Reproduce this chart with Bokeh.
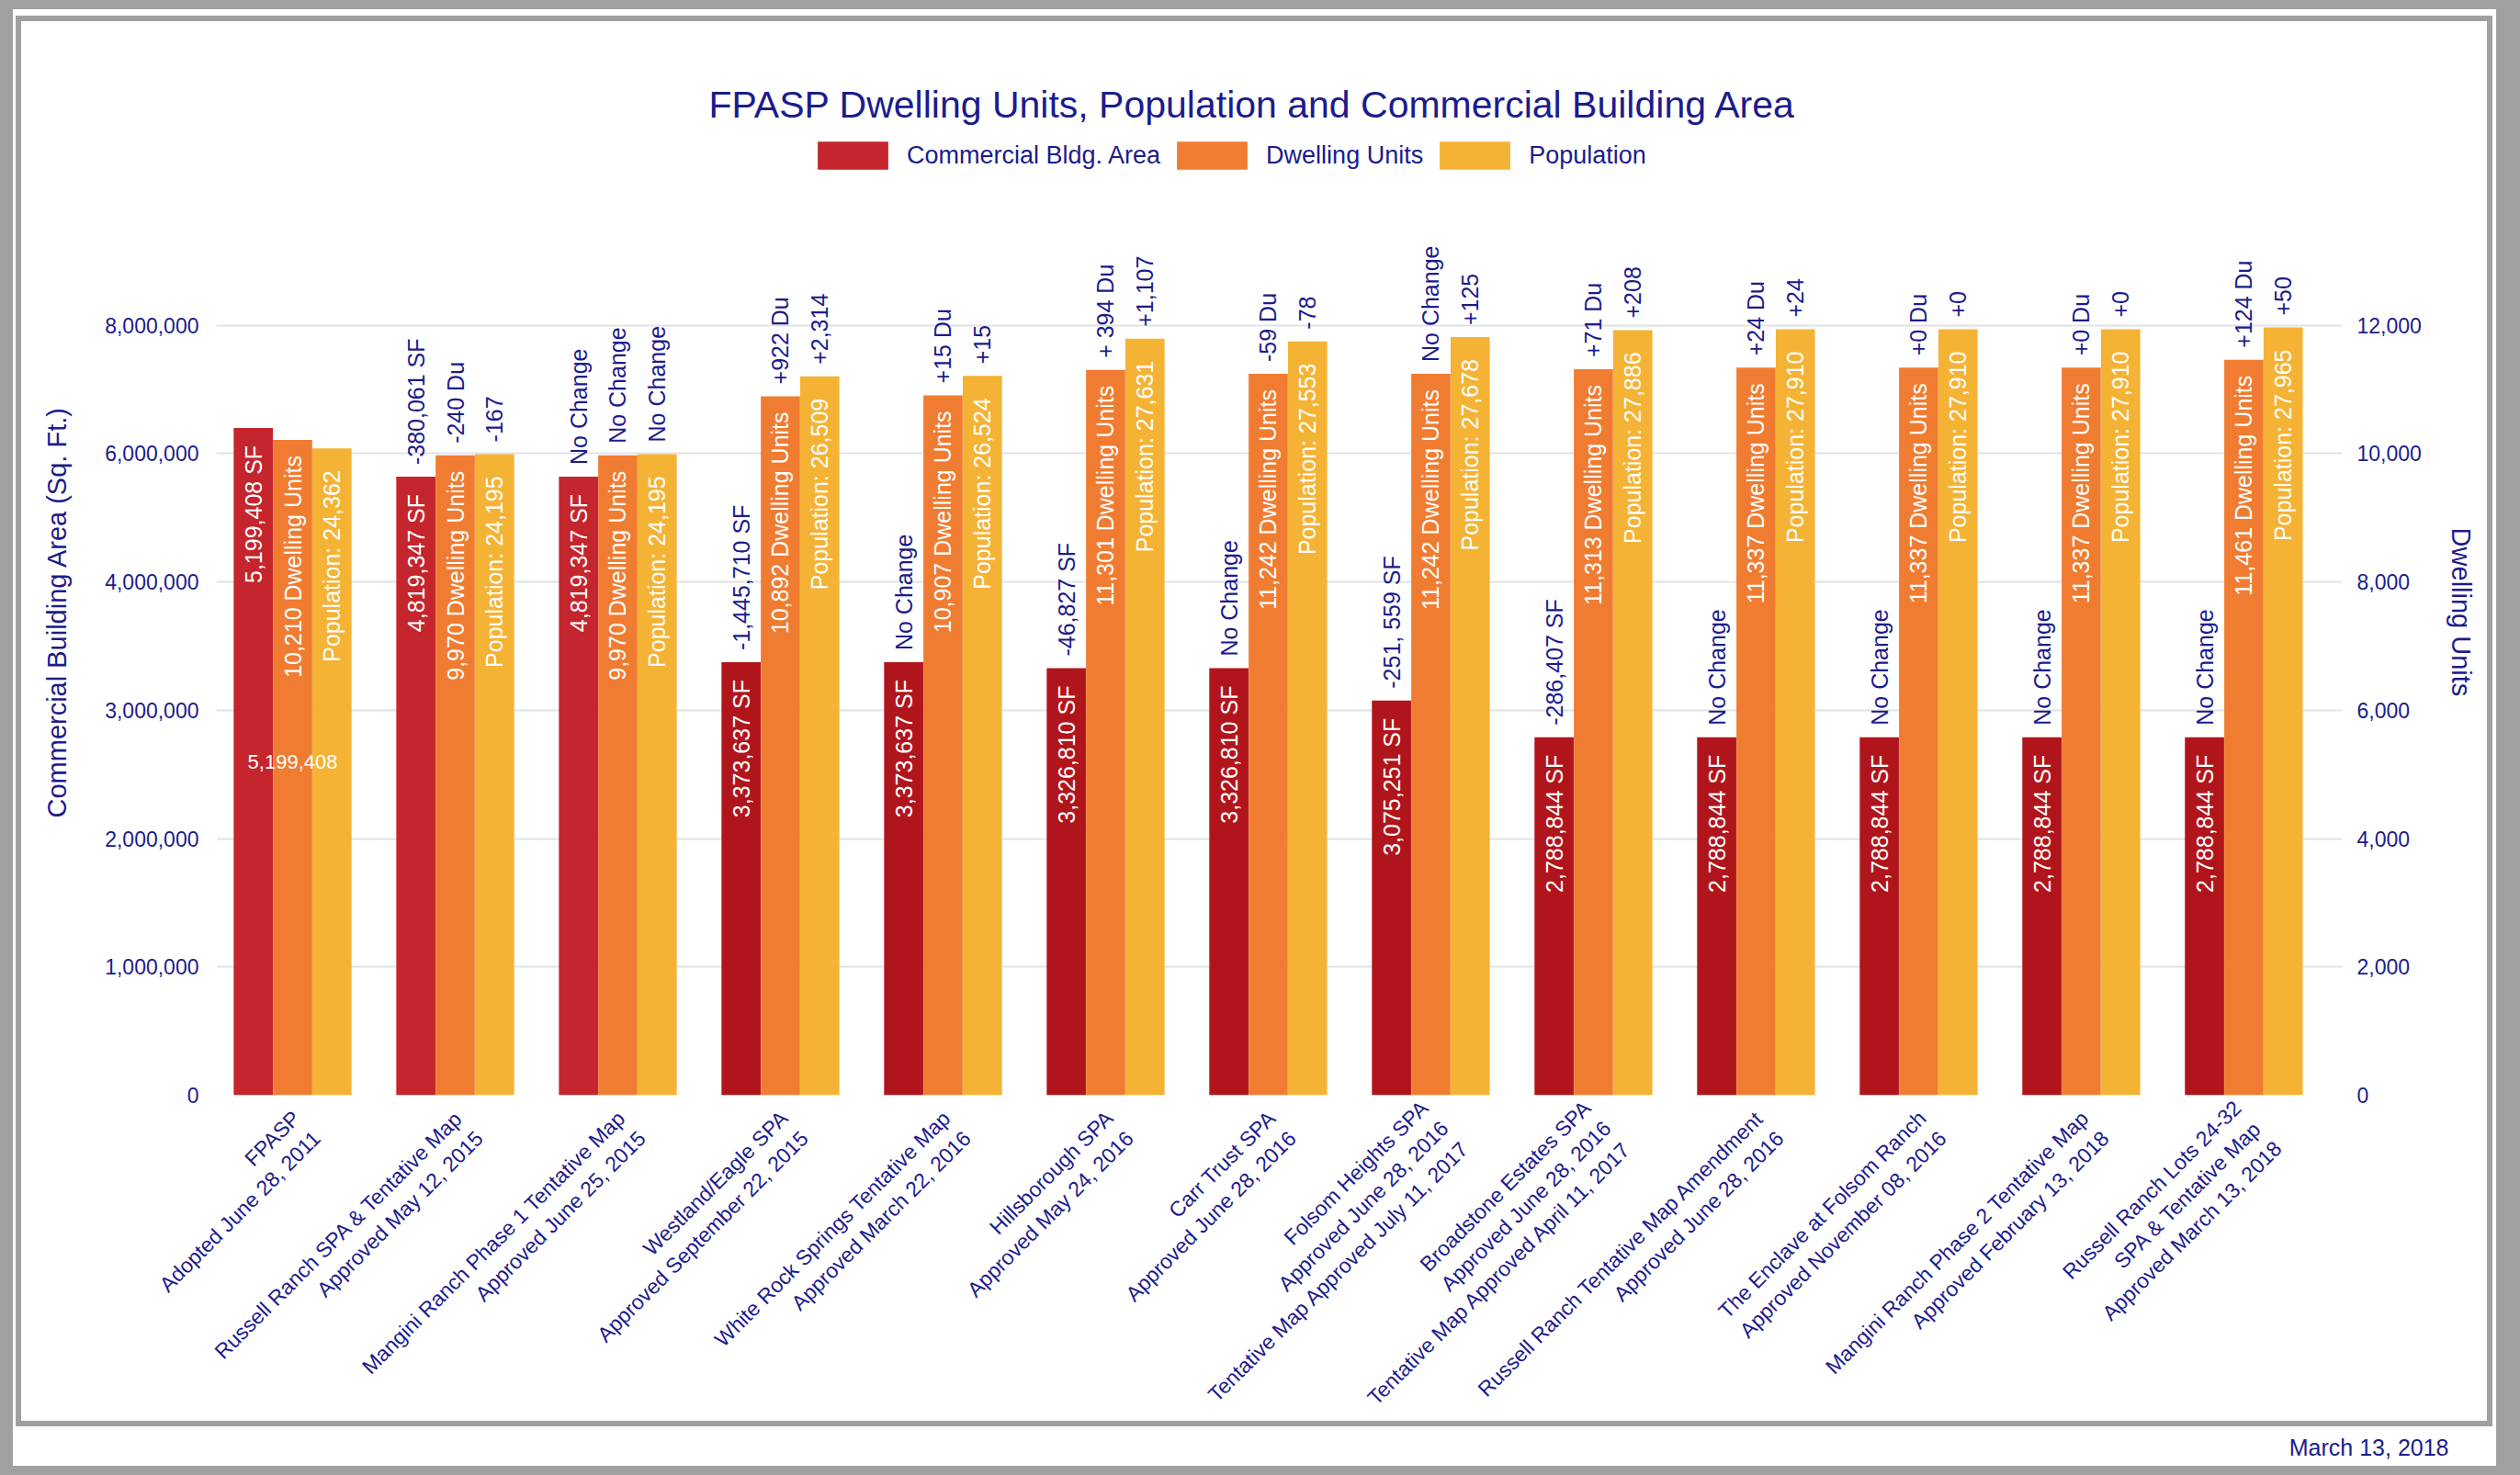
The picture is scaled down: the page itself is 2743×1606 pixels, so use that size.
import math
from bokeh.plotting import figure
from bokeh.models import (Range1d, LinearAxis, FixedTicker, NumeralTickFormatter, Grid,
                          ColumnDataSource, Legend, LegendItem, Title)
from bokeh.core.properties import value
from bokeh.embed import file_html
from bokeh.resources import INLINE

# ---------------- data ----------------
categories = [
    "FPASP\nAdopted June 28, 2011",
    "Russell Ranch SPA & Tentative Map\nApproved May 12, 2015",
    "Mangini Ranch Phase 1 Tentative Map\nApproved June 25, 2015",
    "Westland/Eagle SPA\nApproved September 22, 2015",
    "White Rock Springs Tentative Map\nApproved March 22, 2016",
    "Hillsborough SPA\nApproved May 24, 2016",
    "Carr Trust SPA\nApproved June 28, 2016",
    "Folsom Heights SPA\nApproved June 28, 2016\nTentative Map Approved July 11, 2017",
    "Broadstone Estates SPA\nApproved June 28, 2016\nTentative Map Approved April 11, 2017",
    "Russell Ranch Tentative Map Amendment\nApproved June 28, 2016",
    "The Enclave at Folsom Ranch\nApproved November 08, 2016",
    "Mangini Ranch Phase 2 Tentative Map\nApproved February 13, 2018",
    "Russell Ranch Lots 24-32\nSPA & Tentative Map\nApproved March 13, 2018",
]
commercial_sf = [5199408, 4819347, 4819347, 3373637, 3373637, 3326810, 3326810,
                 3075251, 2788844, 2788844, 2788844, 2788844, 2788844]
dwelling_units = [10210, 9970, 9970, 10892, 10907, 11301, 11242, 11242, 11313,
                  11337, 11337, 11337, 11461]
population = [24362, 24195, 24195, 26509, 26524, 27631, 27553, 27678, 27886,
              27910, 27910, 27910, 27965]
sf_change = ["", "-380,061 SF", "No Change", "-1,445,710 SF", "No Change", "-46,827 SF",
             "No Change", "-251, 559 SF", "-286,407 SF", "No Change", "No Change",
             "No Change", "No Change"]
du_change = ["", "-240 Du", "No Change", "+922 Du", "+15 Du", "+ 394 Du", "-59 Du",
             "No Change", "+71 Du", "+24 Du", "+0 Du", "+0 Du", "+124 Du"]
pop_change = ["", "-167", "No Change", "+2,314", "+15", "+1,107", "-78", "+125", "+208",
              "+24", "+0", "+0", "+50"]
left_ticks = [0, 1000000, 2000000, 3000000, 4000000, 5000000, 6000000]
left_tick_labels = ["0", "1,000,000", "2,000,000", "3,000,000", "4,000,000",
                    "6,000,000", "8,000,000"]
right_ticks = [0, 2000, 4000, 6000, 8000, 10000, 12000]
series_names = ["Commercial Bldg. Area", "Dwelling Units", "Population"]
title_text = "FPASP Dwelling Units, Population and Commercial Building Area"
date_text = "March 13, 2018"

# ---------------- styling ----------------
NAVY = "#1c1c8c"
RED_EARLY = "#c5252d"
RED_LATE = "#b1151c"
ORANGE = "#f07c32"
YELLOW = "#f5b335"
GRAY = "#a0a0a0"
FONT = "Liberation Sans"

W, H = 2743, 1606
UNITS_TOP = 15056            # dwelling-unit axis top (frame top)
SF_PER_UNIT = 500            # commercial axis scale relative to dwelling axis
POP_RANGE = (5104, 33875)    # hidden population scale (matches picture)
BW = 0.241
OFF = 0.242
TICK_SHIFT = 0.085

idx = list(range(len(categories)))
red_colors = [RED_EARLY if i < 3 else RED_LATE for i in idx]

src = ColumnDataSource(dict(
    x_red=[i - OFF for i in idx],
    x_du=[i for i in idx],
    x_pop=[i + OFF for i in idx],
    sf=commercial_sf, du=dwelling_units, pop=population,
    red_color=red_colors,
    sf_in=[f"{v:,} SF" for v in commercial_sf],
    du_in=[f"{v:,} Dwelling Units" for v in dwelling_units],
    pop_in=[f"Population:  {v:,}" for v in population],
    sf_chg=sf_change, du_chg=du_change, pop_chg=pop_change,
))

p = figure(width=W, height=H, output_backend="svg", toolbar_location=None,
           x_range=Range1d(-0.469, 12.605), y_range=Range1d(0, UNITS_TOP),
           y_axis_location=None, min_border_left=235, min_border_right=194,
           min_border_top=140, min_border_bottom=414)
p.extra_y_ranges = {"sf": Range1d(0, UNITS_TOP * SF_PER_UNIT),
                    "pop": Range1d(*POP_RANGE)}
p.outline_line_color = None
p.background_fill_color = "white"
p.border_fill_color = None
p.styles = {
    "background-color": "white",
    "box-shadow": (f"inset 14px 10px 0 0 {GRAY}, inset -26px -10px 0 0 {GRAY}, "
                   "inset 17px 17px 0 0 #ffffff, inset -30px -53px 0 0 #ffffff, "
                   f"inset 23px 23px 0 0 {GRAY}, inset -36px -59px 0 0 {GRAY}"),
}

p.title.text = title_text
p.title.align = "left"
p.title.offset = 536
p.title.standoff = 7
p.title.text_font = FONT
p.title.text_font_size = "41px"
p.title.text_font_style = "normal"
p.title.text_color = NAVY

# grid
p.xgrid.visible = False
p.ygrid.visible = False
p.add_layout(Grid(dimension=1, ticker=FixedTicker(ticks=right_ticks),
                  grid_line_color="#dfe3e8", grid_line_width=2))

# x axis
xa = p.xaxis[0]
x_ticks = [i + TICK_SHIFT for i in idx]
xa.ticker = FixedTicker(ticks=x_ticks)
xa.major_label_overrides = {t: c for t, c in zip(x_ticks, categories)}
xa.major_label_orientation = math.pi / 4
xa.major_label_text_font = FONT
xa.major_label_text_font_size = "23px"
xa.major_label_text_color = NAVY
xa.axis_line_color = None
xa.major_tick_line_color = None
xa.minor_tick_line_color = None
xa.major_label_standoff = 26

# left axis (commercial)
la = LinearAxis(y_range_name="sf", ticker=FixedTicker(ticks=left_ticks),
                major_label_overrides={t: l for t, l in zip(left_ticks, left_tick_labels)},
                axis_label="Commercial Building Area (Sq. Ft.)")
# right axis (dwelling units)
ra = LinearAxis(ticker=FixedTicker(ticks=right_ticks),
                formatter=NumeralTickFormatter(format="0,0"),
                axis_label="Dwelling Units")
for ax in (la, ra):
    ax.axis_line_color = None
    ax.major_tick_line_color = None
    ax.minor_tick_line_color = None
    ax.major_label_text_font = FONT
    ax.major_label_text_font_size = "23px"
    ax.major_label_text_color = NAVY
    ax.axis_label_text_font = FONT
    ax.axis_label_text_font_size = "29px"
    ax.axis_label_text_font_style = "normal"
    ax.axis_label_text_color = NAVY
la.major_label_standoff = 13
la.axis_label_standoff = 33
ra.major_label_standoff = 10
ra.axis_label_standoff = 24
p.add_layout(la, "left")
p.add_layout(ra, "right")

# bars
r_red = p.vbar(x="x_red", top="sf", width=BW, source=src, y_range_name="sf",
               fill_color="red_color", line_color=None)
r_du = p.vbar(x="x_du", top="du", width=BW, source=src,
              fill_color=ORANGE, line_color=None)
r_pop = p.vbar(x="x_pop", top="pop", width=BW, source=src, y_range_name="pop",
               fill_color=YELLOW, line_color=None)

# labels inside bars
common = dict(source=src, angle=math.pi / 2, text_baseline="middle",
              text_font=value(FONT), text_font_size="25px")
p.text(x="x_red", y="sf", text="sf_in", y_range_name="sf", text_align="right",
       y_offset=19, text_color="white", **common)
p.text(x="x_du", y="du", text="du_in", text_align="right",
       y_offset=17, text_color="white", **common)
p.text(x="x_pop", y="pop", text="pop_in", y_range_name="pop", text_align="right",
       y_offset=17, text_color="white", **common)
# change labels above bars
p.text(x="x_red", y="sf", text="sf_chg", y_range_name="sf", text_align="left",
       y_offset=-13, text_color=NAVY, **common)
p.text(x="x_du", y="du", text="du_chg", text_align="left",
       y_offset=-13, text_color=NAVY, **common)
p.text(x="x_pop", y="pop", text="pop_chg", y_range_name="pop", text_align="left",
       y_offset=-13, text_color=NAVY, **common)
# mid-bar data label of the first group
p.text(x=[idx[0]], y=[commercial_sf[0] / 2], text=[f"{commercial_sf[0]:,}"],
       y_range_name="sf", text_align="center", text_baseline="middle",
       text_color="white", text_font=value(FONT), text_font_size="22px")

# legend
legend = Legend(items=[LegendItem(label=series_names[0], renderers=[r_red], index=0),
                       LegendItem(label=series_names[1], renderers=[r_du]),
                       LegendItem(label=series_names[2], renderers=[r_pop])],
                orientation="horizontal", location=(645, 1004),
                glyph_width=96, glyph_height=38, label_standoff=11, spacing=8,
                padding=0, margin=0, border_line_color=None,
                background_fill_alpha=0,
                label_text_font=FONT, label_text_font_size="27px",
                label_text_color=NAVY)
p.add_layout(legend)

# date stamp below the chart
p.add_layout(Title(text=date_text, align="right", offset=-116, standoff=-17,
                   vertical_align="top",
                   text_font=FONT, text_font_size="25px", text_font_style="normal",
                   text_color=NAVY), "below")

open("out.html", "w").write(file_html(p, INLINE))
